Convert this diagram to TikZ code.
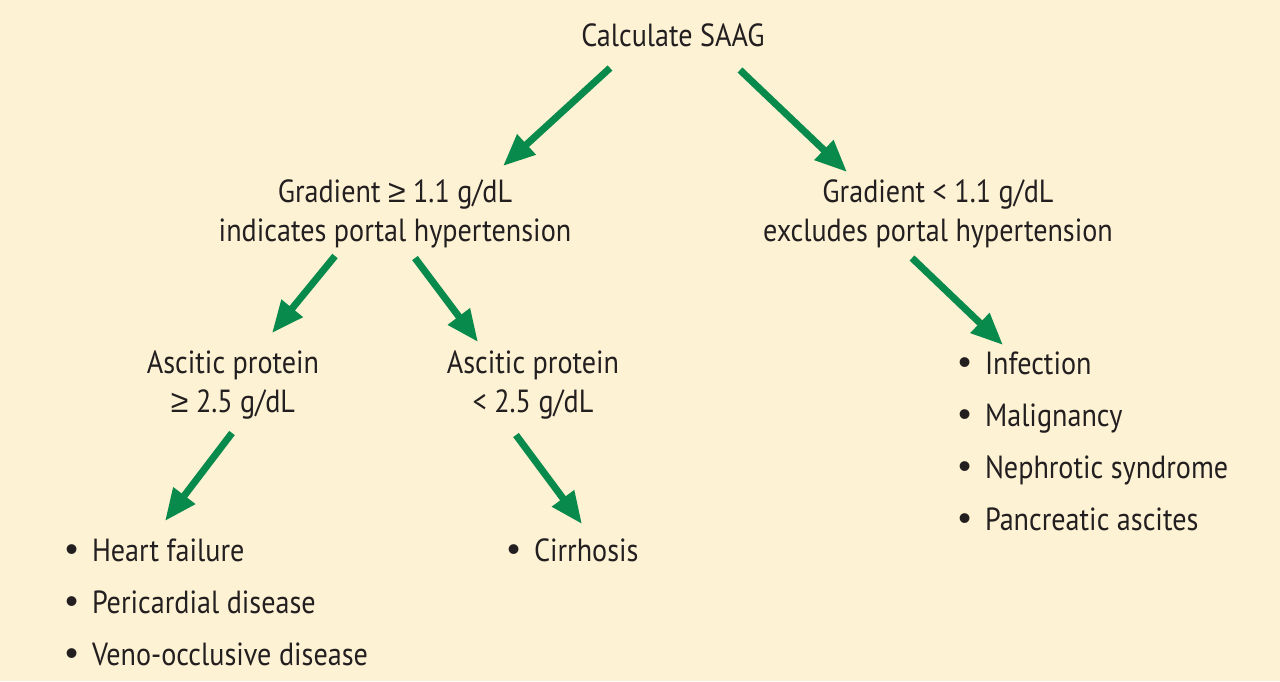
\documentclass[tikz,border=0pt]{standalone}
\usepackage{fontspec}
\setmainfont{PT Sans}[FakeStretch=0.88]
\newfontfamily\symfont{Liberation Sans}
\usetikzlibrary{arrows.meta,positioning,calc}

\definecolor{saagbg}{RGB}{253,242,211}
\definecolor{saaggreen}{RGB}{8,138,76}
\definecolor{saagtext}{RGB}{35,31,32}

\newcommand{\bul}{{\symfont\fontsize{18}{18}\selectfont •}\hspace{7pt}}
\newcommand{\atleast}{{\symfont ≥}}

\tikzset{
  box/.style={align=center, text=saagtext, inner sep=0pt,
    font=\fontsize{16}{19.5}\selectfont},
  list/.style={align=left, anchor=west, text=saagtext, inner sep=0pt,
    font=\fontsize{16}{26}\selectfont},
  arr/.style={saaggreen, line width=3.5pt,
    -{Triangle[length=16pt,width=13pt]}}
}

\begin{document}
\begin{tikzpicture}[x=0.5pt,y=-0.5pt]
  % the cream card
  \fill[saagbg] (0,0) rectangle (1280,681);
  \useasboundingbox (0,0) rectangle (1280,681);

  % decisions
  \node[box] (calc) at (673,35) {Calculate SAAG};
  \node[box] (hi) at (395,214) {Gradient \atleast{} 1.1 g/dL\\indicates portal hypertension};
  \node[box] (lo) at (938,214) {Gradient < 1.1 g/dL\\excludes portal hypertension};
  \node[box] (hiprot) at (233,385) {Ascitic protein\\\atleast{} 2.5 g/dL};
  \node[box] (loprot) at (533,385) {Ascitic protein\\< 2.5 g/dL};

  % the causes
  \node[list] (hilist) at (65,602) {\bul Heart failure\\\bul Pericardial disease\\\bul Veno-occlusive disease};
  \node[list] (cirr) at (507,550) {\bul Cirrhosis};
  \node[list] (lolist) at (958,441) {\bul Infection\\\bul Malignancy\\\bul Nephrotic syndrome\\\bul Pancreatic ascites};

  % arrow ends
  \coordinate (calc-l) at (610,68);
  \coordinate (calc-r) at (740,70);
  \coordinate (hi-in) at (503,166);
  \coordinate (lo-in) at (847,172);
  \coordinate (hi-l) at (335,256);
  \coordinate (hi-r) at (415,258);
  \coordinate (lo-out) at (912,258);
  \coordinate (hiprot-in) at (272,333);
  \coordinate (loprot-in) at (478,342);
  \coordinate (lolist-in) at (1003,345);
  \coordinate (hiprot-out) at (232,433);
  \coordinate (loprot-out) at (516,435);
  \coordinate (hilist-in) at (165,521);
  \coordinate (cirr-in) at (582,524);

  % arrows
  \draw[arr] (calc-l) -- (hi-in);
  \draw[arr] (calc-r) -- (lo-in);
  \draw[arr] (hi-l) -- (hiprot-in);
  \draw[arr] (hi-r) -- (loprot-in);
  \draw[arr] (lo-out) -- (lolist-in);
  \draw[arr] (hiprot-out) -- (hilist-in);
  \draw[arr] (loprot-out) -- (cirr-in);
\end{tikzpicture}
\end{document}
